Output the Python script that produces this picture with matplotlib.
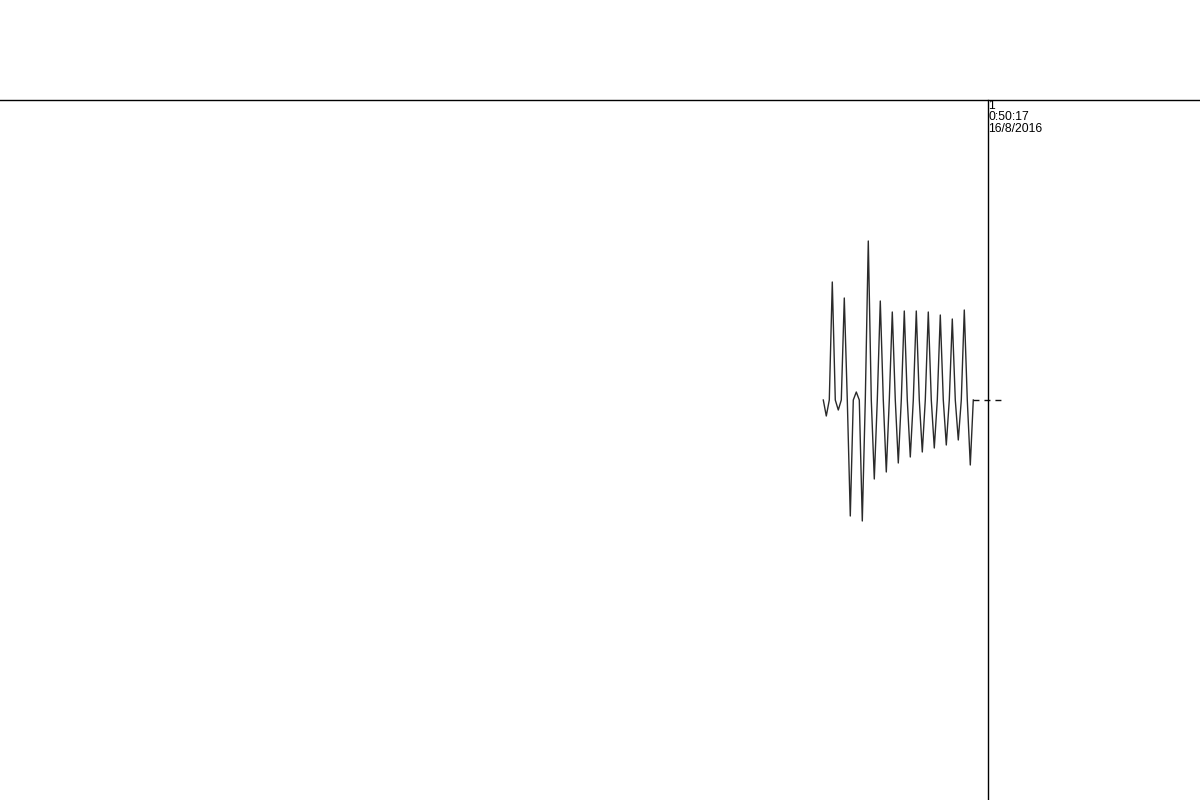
import matplotlib
matplotlib.use("Agg")
import matplotlib.pyplot as plt

# Waveform samples (one sample per step), baseline = 0
trace = [0, -16, 0, 118, 0, -10, 0, 102, 0, -116,
         0, 8, 0, -121, 0, 159, 0, -79, 0, 99,
         0, -72, 0, 88, 0, -63, 0, 89, 0, -57,
         0, 89, 0, -52, 0, 88, 0, -48, 0, 85,
         0, -45, 0, 81, 0, -40, 0, 90, 0, -65,
         0]
tail = [0, 0]          # dashed continuation after the trace
tail_idx = [50, 60]

cursor_idx = 55        # vertical cursor position
top_level = 300        # horizontal line level
cursor_labels = ["1", "0:50:17", "16/8/2016"]

plt.rcParams["font.family"] = ["Liberation Sans", "DejaVu Sans"]

fig = plt.figure(figsize=(12, 8), dpi=100)
ax = fig.add_axes([0, 0, 1, 1])

# Trace
ax.plot(range(len(trace)), trace, color="#2a2a2a", linewidth=1.0)

# Dashed tail
ax.plot(tail_idx, tail, color="#111111", linewidth=1.0, dashes=(4.3, 3.6))

# Top line and cursor
ax.axhline(top_level, color="black", linewidth=1.0)
ax.plot([cursor_idx, cursor_idx], [top_level, -400], color="black", linewidth=1.0)

# Cursor label
ax.text(cursor_idx + 0.05, top_level, "\n".join(cursor_labels),
        fontsize=8.7, va="top", ha="left", linespacing=0.93, color="black")

ax.set_xlim(-274.43, 125.57)
ax.set_ylim(-400, 400)
ax.axis("off")

plt.savefig("out.png", dpi=100)
plt.close()
